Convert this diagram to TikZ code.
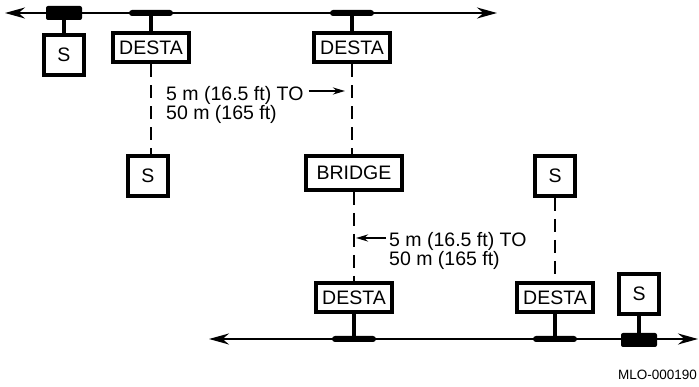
\documentclass[tikz,border=0pt]{standalone}
\usepackage{fontspec}
\setmainfont{Liberation Sans}
\usetikzlibrary{positioning}
\usetikzlibrary{arrows.meta}

\begin{document}
\begin{tikzpicture}[
        x=1pt, y=-1pt,
        >={Stealth[length=20pt,width=11pt]},
        boxnode/.style={draw=black, line width=4pt, fill=white, inner sep=0pt, font=\fontsize{19.5}{18}\selectfont},
        statnode/.style={boxnode, minimum width=40pt, minimum height=40pt},
        destanode/.style={boxnode, minimum width=76pt, minimum height=29pt},
        tapnode/.style={fill=black, rounded corners=2pt, inner sep=0pt, minimum width=36pt, minimum height=14pt},
        barnode/.style={fill=black, rounded corners=3pt, inner sep=0pt, minimum width=44pt, minimum height=6pt},
        stem/.style={line width=4pt},
        bus/.style={<->, line width=2pt},
        drop/.style={line width=2.5pt, dash pattern=on 13pt off 8pt},
        labeltext/.style={align=left, inner sep=0pt, font=\fontsize{19.5}{18}\selectfont},
        labarrow/.style={-{Stealth[length=12pt,width=7pt]}, line width=2pt}
    ]

        \useasboundingbox (0,0) rectangle (699,387);

        % Bus ends
        \coordinate (TopLeft) at (5,13);
        \coordinate (TopRight) at (497,13);
        \coordinate (LowLeft) at (209,339);
        \coordinate (LowRight) at (698,339);

        \draw[bus] (TopLeft) -- (TopRight);
        \draw[bus] (LowLeft) -- (LowRight);

        % Taps on the buses
        \node [tapnode] (Tap1) at (64,13) {};
        \node [barnode] (Bar1) at (151,13) {};
        \node [barnode] (Bar2) at (352,13) {};
        \node [barnode] (Bar3) at (354,339) {};
        \node [barnode] (Bar4) at (555,339) {};
        \node [tapnode] (Tap4) at (639,340) {};

        % Boxes
        \node [statnode] (Stat1) at (64,55) {S};
        \node [destanode] (Desta1) at (151,48) {DESTA};
        \node [destanode] (Desta2) at (352,48) {DESTA};
        \node [statnode] (Stat2) at (148,176) {S};
        \node [boxnode, minimum width=96pt, minimum height=34pt] (Bridge0) at (354,173) {BRIDGE};
        \node [statnode] (Stat3) at (555,176) {S};
        \node [destanode] (Desta3) at (354,298) {DESTA};
        \node [destanode] (Desta4) at (555,298) {DESTA};
        \node [statnode] (Stat4) at (639,294) {S};

        % Stems
        \draw[stem] (Tap1.south) -- (Stat1.north);
        \draw[stem] (Bar1.south) -- (Desta1.north);
        \draw[stem] (Bar2.south) -- (Desta2.north);
        \draw[stem] (Bar3.north) -- (Desta3.south);
        \draw[stem] (Bar4.north) -- (Desta4.south);
        \draw[stem] (Tap4.north) -- (Stat4.south);

        % Dashed drops
        \draw[drop] (Desta1.south) -- (Desta1.south |- Stat2.north);
        \draw[drop] (Desta2.south) -- (Bridge0.north -| Desta2.south);
        \draw[drop] (Bridge0.south) -- (Desta3.north);
        \draw[drop] (Stat3.south) -- (Desta4.north);

        % Length labels
        \node [labeltext, anchor=north west] (Label1) at (166,86) {5 m (16.5 ft) TO\\50 m (165 ft)};
        \coordinate (Tip1) at (345,91);
        \draw[labarrow] (Tip1 -| Label1.east) ++(5,0) -- (Tip1);

        \node [labeltext, anchor=north west] (Label2) at (389,232) {5 m (16.5 ft) TO\\50 m (165 ft)};
        \coordinate (Tip2) at (356,238);
        \draw[labarrow] (Tip2 -| Label2.west) ++(-3,0) -- (Tip2);

        \node [anchor=base east, inner sep=0pt, font=\fontsize{13.5}{13.5}\selectfont] (Code0) at (697,380) {MLO-000190};

    \end{tikzpicture}
\end{document}
